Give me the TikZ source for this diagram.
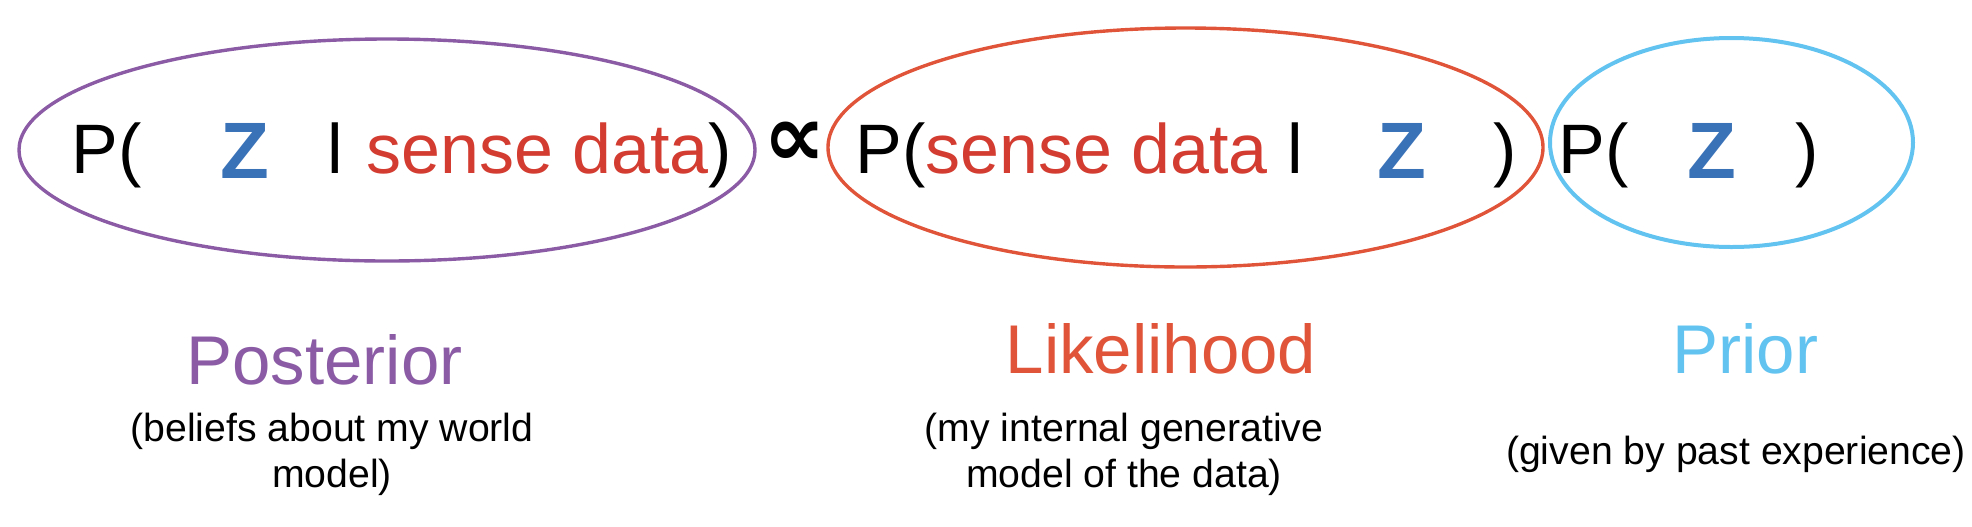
\documentclass[tikz,border=0pt]{standalone}
\usepackage{fontspec}
\setmainfont{Liberation Sans}
\newfontfamily\symfont{DejaVu Sans}
\usetikzlibrary{positioning}

\definecolor{postpurple}{HTML}{8B5CA5}
\definecolor{likered}{HTML}{E0553A}
\definecolor{priorblue}{HTML}{62C3F0}
\definecolor{sensered}{HTML}{D33C30}
\definecolor{zblue}{HTML}{3A72B8}
\newcommand{\sense}[1]{\textcolor{sensered}{#1}}

\begin{document}
\begin{tikzpicture}[x=0.5pt,y=-0.5pt,
	term/.style={inner sep=0pt,anchor=base west,font=\fontsize{35}{42}\selectfont},
	zvar/.style={inner sep=0pt,anchor=base west,text=zblue,font=\fontsize{40}{46}\selectfont\bfseries},
	title/.style={inner sep=0pt,anchor=base,font=\fontsize{34.5}{41}\selectfont},
	note/.style={inner sep=0pt,anchor=north,align=center,font=\fontsize{19.6}{23}\selectfont}]
	\useasboundingbox (0,0) rectangle (1972,526);
	\coordinate (postc) at (387,150);
	\coordinate (likec) at (1185.5,147.5);
	\coordinate (priorc) at (1731.5,142.5);
	\draw[postpurple,line width=1.7pt] (postc) ellipse (184pt and 55.5pt);
	\draw[likered,line width=1.7pt] (likec) ellipse (178.75pt and 59.75pt);
	\draw[priorblue,line width=2pt] (priorc) ellipse (90.75pt and 52.25pt);
	% posterior
	\draw node (p1)[term] at (71,173) {P(};
	\draw node (z1)[zvar] at (220,178) {Z};
	\draw node (bar1)[term] at (327,173) {l};
	\draw node (d1)[term] at (366,173) {\sense{sense data})};
	\draw node (prop)[inner sep=0pt,anchor=base west,font=\symfont\bfseries\fontsize{44}{50}\selectfont] at (763,166) {∝};
	% likelihood
	\draw node (p2)[term] at (855,173) {P(\sense{sense data} l};
	\draw node (z2)[zvar] at (1377,178) {Z};
	\draw node (r2)[term] at (1493,173) {)};
	% prior
	\draw node (p3)[term] at (1558,173) {P(};
	\draw node (z3)[zvar] at (1687,178) {Z};
	\draw node (r3)[term] at (1795,173) {)};
	% labels
	\draw node (posterior)[title,text=postpurple] at (324.5,384) {Posterior};
	\draw node (likelihood)[title,text=likered] at (1161,373) {Likelihood};
	\draw node (prior)[title,text=priorblue] at (1745.5,373) {Prior};
	\draw node (postnote)[note] at (332,413) {(beliefs about my world\\model)};
	\draw node (likenote)[note] at (1124,413) {(my internal generative\\model of the data)};
	\draw node (priornote)[note] at (1736,436) {(given by past experience)};
\end{tikzpicture}
\end{document}
